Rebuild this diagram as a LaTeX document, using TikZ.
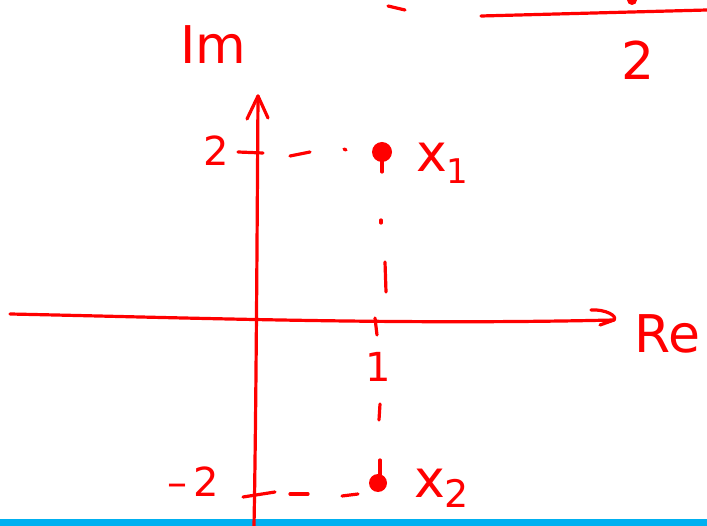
\documentclass[tikz,border=0pt]{standalone}
\usepackage{fontspec}
\setmainfont{DejaVu Sans}
\definecolor{ink}{HTML}{FF0000}
\definecolor{bar}{HTML}{00B0F0}
\begin{document}
\begin{tikzpicture}[x=1pt,y=-1pt,
  pen/.style={draw=ink,line width=3.2pt,line cap=round,line join=round},
  lbl/.style={text=ink,inner sep=0pt,font=\fontsize{40}{40}\selectfont},
  big/.style={text=ink,inner sep=0pt,font=\fontsize{52}{52}\selectfont},
  pt/.style={circle,fill=ink,inner sep=0pt,minimum size=20pt}]
\useasboundingbox (0,0) rectangle (707,526);
\fill[bar] (0,518.5) rectangle (707,526);
% axes
\coordinate (imtop) at (258,96);
\coordinate (imbot) at (254,526);
\draw[pen] (imbot) .. controls (256,420) and (257,250) .. (imtop);
\draw[pen] (247,119) -- (imtop) -- (268,118);
\coordinate (releft) at (10,314);
\coordinate (reright) at (614,320);
\draw[pen] (releft) .. controls (200,318) and (400,325) .. (reright);
\draw[pen] (591,310) .. controls (605,309) and (618,316) .. (reright) -- (600,325);
% labels of axes
\node[big,anchor=base west] (im) at (180,64) {Im};
\node[big,anchor=base west] (re) at (634,353) {Re};
% ticks
\draw[pen] (238,152) -- (263,153);
\draw[pen] (243,497) -- (275,492);
\draw[pen] (375,318) -- (377,335);
\node[lbl] (two) at (216,151) {2};
\node[lbl] (mtwo) at (193,482) {–\hspace{6pt}2};
\node[lbl] (one) at (378,367) {1};
% points
\node[pt] (x1) at (382,152) {};
\node[pt,minimum size=18pt] (x2) at (378,483) {};
\node[big,anchor=base west] (x1l) at (416,172) {x\raisebox{-12pt}{\fontsize{34}{34}\selectfont 1}};
\node[big,anchor=base west] (x2l) at (414,497) {x\raisebox{-10pt}{\fontsize{38}{38}\selectfont 2}};
% dashed guides
\draw[pen] (290,156) -- (310,152);
\draw[pen] (344,149) -- (346,150);
\draw[pen] (382,152) -- (382,172);
\draw[pen] (381,220) -- (381,223);
\draw[pen] (385,262) -- (386,292);
\draw[pen] (380,404) -- (379,420);
\draw[pen] (380,460) -- (380,478);
\draw[pen] (290,494) -- (308,494);
\draw[pen] (342,496) -- (358,494);
% top fragments
\draw[pen] (388,6) -- (405,10);
\draw[pen] (481,16) -- (707,10);
\fill[ink] (632,0) circle (5pt);
\node[big] (ttwo) at (638,60) {2};
\end{tikzpicture}
\end{document}
